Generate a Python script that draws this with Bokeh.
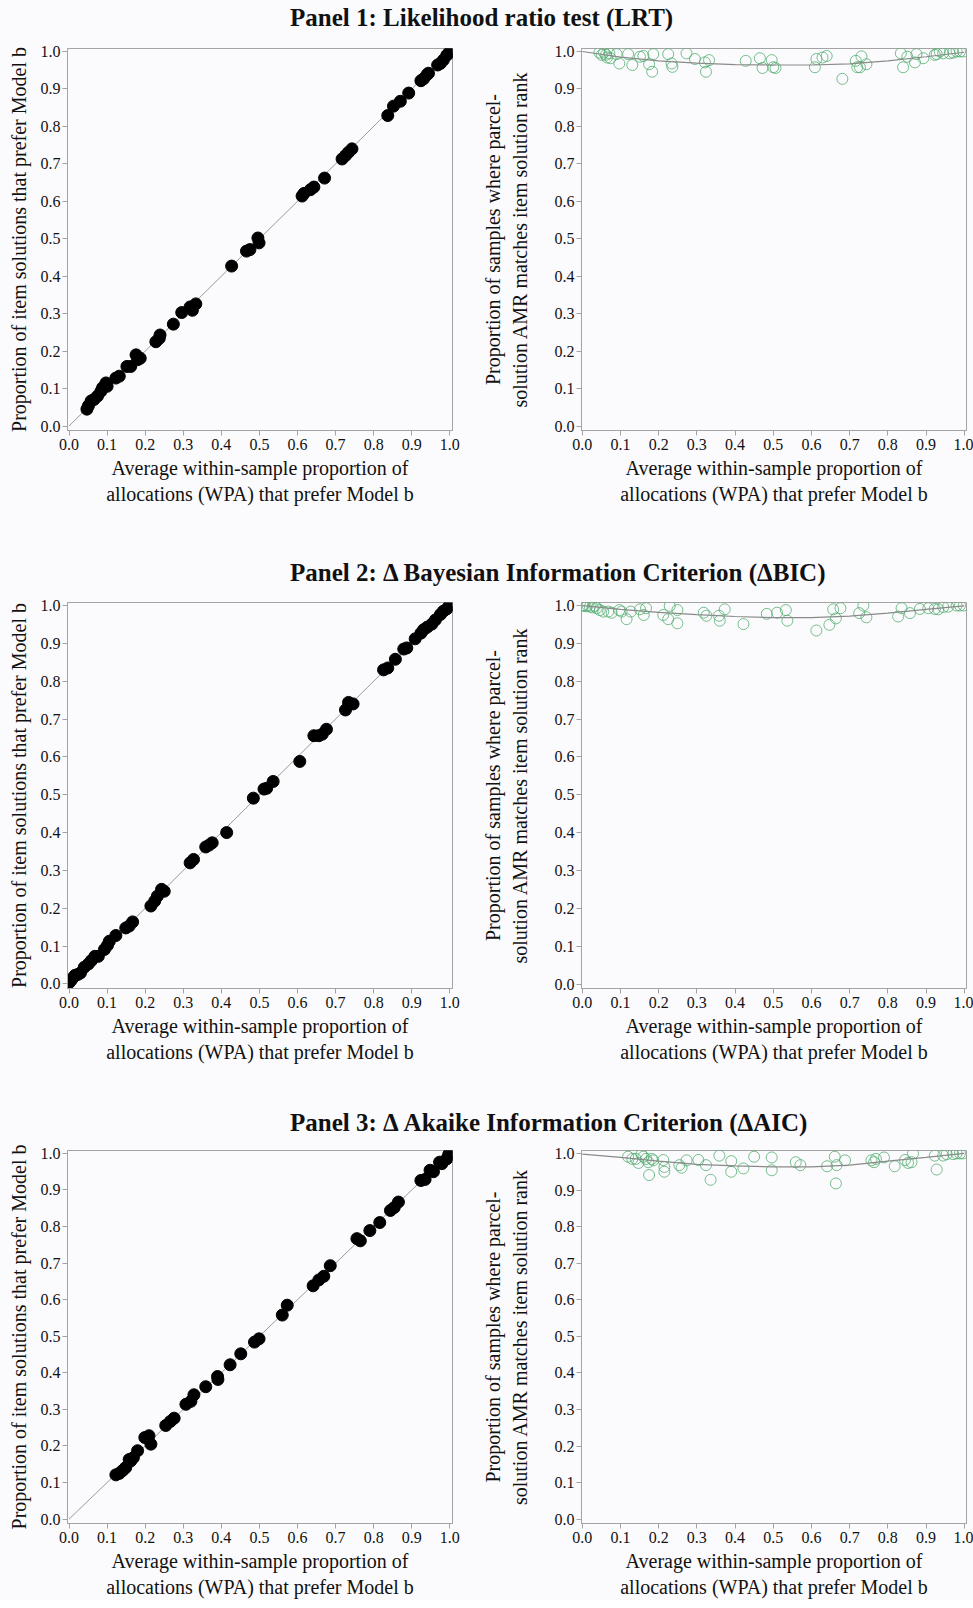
from bokeh.plotting import figure
from bokeh.models import Range1d, FixedTicker, Div, Spacer, NumeralTickFormatter
from bokeh.layouts import column, row
from bokeh.embed import file_html
from bokeh.resources import INLINE

# ---------------- data ----------------
titles = [
    "Panel 1: Likelihood ratio test (LRT)",
    "Panel 2: \u0394 Bayesian Information Criterion (\u0394BIC)",
    "Panel 3: \u0394 Akaike Information Criterion (\u0394AIC)",
]
tick_values = [0.0, 0.1, 0.2, 0.3, 0.4, 0.5, 0.6, 0.7, 0.8, 0.9, 1.0]
diag_x = [0.0, 1.0]
diag_y = [0.0, 1.0]

# Panel 1 – left (WPA vs proportion of item solutions)
p1_wpa = [0.047, 0.051, 0.058, 0.066, 0.075, 0.084, 0.088, 0.097, 0.100, 0.123, 0.132,
          0.152, 0.162, 0.176, 0.180, 0.187, 0.228, 0.237, 0.239, 0.274, 0.296, 0.318,
          0.324, 0.333, 0.427, 0.466, 0.475, 0.496, 0.499, 0.612, 0.617, 0.634, 0.643,
          0.671, 0.717, 0.726, 0.734, 0.743, 0.837, 0.852, 0.870, 0.892, 0.924, 0.931,
          0.940, 0.944, 0.968, 0.975, 0.983, 0.992, 0.997, 1.000]
p1_item = [0.045, 0.054, 0.067, 0.071, 0.080, 0.093, 0.102, 0.115, 0.106, 0.128, 0.133,
           0.159, 0.159, 0.190, 0.177, 0.181, 0.225, 0.234, 0.243, 0.272, 0.303, 0.318,
           0.309, 0.326, 0.427, 0.467, 0.471, 0.502, 0.489, 0.614, 0.621, 0.631, 0.638,
           0.662, 0.713, 0.722, 0.731, 0.740, 0.829, 0.854, 0.867, 0.889, 0.922, 0.927,
           0.938, 0.942, 0.964, 0.968, 0.977, 0.990, 0.995, 0.999]
# Panel 1 – right (WPA vs proportion matching)
p1r_wpa = [0.045, 0.051, 0.057, 0.062, 0.065, 0.071, 0.074, 0.090, 0.097, 0.120, 0.131,
           0.151, 0.160, 0.175, 0.183, 0.186, 0.225, 0.234, 0.236, 0.273, 0.295, 0.321,
           0.324, 0.332, 0.428, 0.465, 0.472, 0.496, 0.500, 0.506, 0.609, 0.613, 0.629,
           0.640, 0.681, 0.716, 0.720, 0.727, 0.731, 0.744, 0.834, 0.840, 0.851, 0.871,
           0.875, 0.893, 0.923, 0.928, 0.936, 0.945, 0.962, 0.971, 0.980, 0.989, 0.997]
p1r_match = [0.997, 0.991, 0.997, 0.991, 0.984, 0.995, 0.982, 0.993, 0.968, 0.993, 0.964,
             0.986, 0.988, 0.966, 0.946, 0.993, 0.993, 0.968, 0.959, 0.995, 0.980, 0.971,
             0.946, 0.977, 0.975, 0.982, 0.956, 0.977, 0.958, 0.956, 0.958, 0.980, 0.984,
             0.988, 0.927, 0.975, 0.958, 0.958, 0.987, 0.966, 0.995, 0.958, 0.986, 0.971,
             0.993, 0.982, 0.991, 0.993, 1.000, 0.995, 0.995, 0.997, 1.000, 1.000, 1.000]
p1_smooth_x = [0.0, 0.1, 0.2, 0.3, 0.4, 0.5, 0.6, 0.7, 0.8, 0.9, 1.0]
p1_smooth_y = [1.0, 0.985, 0.975, 0.969, 0.965, 0.964, 0.964, 0.967, 0.975, 0.986, 0.998]

# Panel 2 – left
p2_wpa = [0.000, 0.005, 0.010, 0.016, 0.023, 0.030, 0.040, 0.051, 0.059, 0.068, 0.077,
          0.093, 0.101, 0.106, 0.123, 0.149, 0.158, 0.167, 0.215, 0.225, 0.232, 0.243,
          0.250, 0.318, 0.327, 0.359, 0.368, 0.376, 0.414, 0.484, 0.512, 0.519, 0.536,
          0.606, 0.643, 0.656, 0.665, 0.676, 0.726, 0.734, 0.746, 0.826, 0.837, 0.857,
          0.879, 0.887, 0.909, 0.924, 0.931, 0.941, 0.953, 0.962, 0.975, 0.983, 0.992,
          0.999]
p2_item = [0.003, 0.009, 0.016, 0.023, 0.025, 0.029, 0.044, 0.053, 0.062, 0.073, 0.073,
           0.091, 0.102, 0.113, 0.128, 0.148, 0.153, 0.164, 0.206, 0.219, 0.232, 0.250,
           0.245, 0.320, 0.329, 0.362, 0.367, 0.373, 0.400, 0.491, 0.515, 0.517, 0.535,
           0.588, 0.656, 0.656, 0.660, 0.673, 0.724, 0.744, 0.740, 0.830, 0.835, 0.858,
           0.885, 0.888, 0.912, 0.927, 0.936, 0.943, 0.951, 0.962, 0.976, 0.985, 0.991,
           1.000]
# Panel 2 – right
p2r_wpa = [0.001, 0.003, 0.009, 0.014, 0.020, 0.027, 0.033, 0.038, 0.046, 0.055, 0.068,
           0.077, 0.097, 0.103, 0.116, 0.127, 0.151, 0.161, 0.167, 0.212, 0.225, 0.229,
           0.249, 0.249, 0.318, 0.325, 0.358, 0.360, 0.373, 0.422, 0.483, 0.510, 0.533,
           0.537, 0.613, 0.647, 0.657, 0.664, 0.676, 0.725, 0.736, 0.744, 0.827, 0.836,
           0.858, 0.884, 0.906, 0.923, 0.932, 0.945, 0.958, 0.980, 0.989, 0.999]
p2r_match = [1.000, 1.000, 0.998, 1.000, 0.997, 0.995, 0.999, 0.993, 0.988, 0.984, 0.984,
             0.981, 0.988, 0.984, 0.964, 0.984, 0.990, 0.975, 0.993, 0.975, 0.964, 0.999,
             0.988, 0.953, 0.981, 0.973, 0.973, 0.960, 0.990, 0.951, 0.978, 0.981, 0.988,
             0.960, 0.934, 0.949, 0.990, 0.966, 0.993, 0.980, 1.000, 0.969, 0.971, 0.993,
             0.980, 0.991, 0.993, 0.991, 0.990, 0.996, 0.997, 1.000, 1.000, 1.000]
p2_smooth_x = [0.0, 0.1, 0.2, 0.3, 0.4, 0.5, 0.6, 0.7, 0.8, 0.9, 1.0]
p2_smooth_y = [1.0, 0.990, 0.982, 0.976, 0.971, 0.968, 0.968, 0.972, 0.980, 0.990, 0.999]

# Panel 3 – left
p3_wpa = [0.123, 0.132, 0.141, 0.149, 0.158, 0.162, 0.169, 0.180, 0.199, 0.210, 0.215,
          0.254, 0.266, 0.276, 0.307, 0.320, 0.328, 0.359, 0.390, 0.391, 0.423, 0.451,
          0.487, 0.499, 0.560, 0.573, 0.641, 0.656, 0.669, 0.686, 0.756, 0.765, 0.790,
          0.816, 0.844, 0.854, 0.865, 0.924, 0.935, 0.948, 0.957, 0.973, 0.979, 0.992,
          0.997, 1.000]
p3_item = [0.121, 0.125, 0.133, 0.141, 0.163, 0.159, 0.168, 0.187, 0.223, 0.228, 0.205,
           0.256, 0.267, 0.276, 0.314, 0.322, 0.340, 0.362, 0.390, 0.382, 0.422, 0.452,
           0.484, 0.493, 0.558, 0.585, 0.638, 0.654, 0.664, 0.693, 0.767, 0.761, 0.789,
           0.811, 0.844, 0.852, 0.867, 0.926, 0.929, 0.954, 0.950, 0.976, 0.972, 0.985,
           0.997, 1.000]
# Panel 3 – right
p3r_wpa = [0.120, 0.131, 0.140, 0.147, 0.155, 0.160, 0.167, 0.173, 0.175, 0.182, 0.186,
           0.212, 0.215, 0.215, 0.254, 0.260, 0.273, 0.304, 0.324, 0.336, 0.359, 0.390,
           0.390, 0.422, 0.450, 0.496, 0.496, 0.559, 0.571, 0.641, 0.661, 0.666, 0.664,
           0.688, 0.757, 0.764, 0.769, 0.790, 0.818, 0.845, 0.853, 0.862, 0.866, 0.923,
           0.928, 0.945, 0.954, 0.971, 0.980, 0.989, 0.996]
p3r_match = [0.991, 0.985, 0.985, 0.974, 0.998, 0.991, 0.985, 0.976, 0.941, 0.985, 0.981,
             0.982, 0.963, 0.950, 0.968, 0.961, 0.981, 0.982, 0.968, 0.928, 0.994, 0.979,
             0.950, 0.959, 0.991, 0.989, 0.954, 0.976, 0.968, 0.965, 0.991, 0.968, 0.918,
             0.981, 0.981, 0.976, 0.985, 0.989, 0.965, 0.982, 0.974, 0.976, 1.000, 0.994,
             0.956, 0.994, 0.998, 0.998, 1.000, 1.000, 1.000]
p3_smooth_x = [0.0, 0.1, 0.2, 0.3, 0.4, 0.5, 0.6, 0.7, 0.8, 0.9, 1.0]
p3_smooth_y = [0.998, 0.989, 0.979, 0.970, 0.966, 0.963, 0.963, 0.968, 0.979, 0.989, 1.000]

x_title = "Average within-sample proportion of\nallocations (WPA) that prefer Model b"
left_y_title = "Proportion of item solutions that prefer Model b"
right_y_title = "Proportion of samples where parcel-\nsolution AMR matches item solution rank"

# ---------------- styling ----------------
BG = "#fbfbfd"
FRAME = "#a3a3a3"
SERIF = "Liberation Serif"


def style(p, ylab, ylab_standoff):
    p.xgrid.visible = False
    p.ygrid.visible = False
    p.outline_line_color = FRAME
    p.outline_line_width = 1
    p.background_fill_color = BG
    p.border_fill_color = BG
    for ax in (p.xaxis[0], p.yaxis[0]):
        ax.ticker = FixedTicker(ticks=tick_values)
        ax.formatter = NumeralTickFormatter(format="0.0")
        ax.axis_line_color = FRAME
        ax.major_tick_line_color = FRAME
        ax.major_tick_out = 5
        ax.major_tick_in = 0
        ax.minor_tick_line_color = None
        ax.major_label_text_font = SERIF
        ax.major_label_text_font_size = "16px"
        ax.major_label_text_color = "#111111"
        ax.axis_label_text_font = SERIF
        ax.axis_label_text_font_size = "20px"
        ax.axis_label_text_font_style = "normal"
        ax.axis_label_text_color = "#111111"
    p.xaxis[0].axis_label = x_title
    p.xaxis[0].major_label_standoff = 3
    p.xaxis[0].axis_label_standoff = 4
    p.yaxis[0].axis_label = ylab
    p.yaxis[0].major_label_standoff = 2
    p.yaxis[0].axis_label_standoff = ylab_standoff


def left_fig(h, top, bottom, wpa, item):
    p = figure(width=476, height=h, x_range=Range1d(-0.004, 1.007),
               y_range=Range1d(-0.012, 1.008), output_backend="svg",
               toolbar_location=None, min_border_left=67, min_border_right=24,
               min_border_top=top, min_border_bottom=bottom)
    style(p, left_y_title, 8)
    p.line(diag_x, diag_y, line_color="#9a9a9a", line_width=1)
    p.scatter(wpa, item, size=12, fill_color="black", line_color="black")
    return p


def right_fig(h, top, bottom, wpa, match, sx, sy):
    p = figure(width=497, height=h, x_range=Range1d(-0.002, 1.006),
               y_range=Range1d(-0.0115, 1.008), output_backend="svg",
               toolbar_location=None, min_border_left=105, min_border_right=7,
               min_border_top=top, min_border_bottom=bottom)
    style(p, right_y_title, 21)
    p.scatter(wpa, match, size=11, fill_color=None, line_color="#4aaa68",
              line_alpha=0.75, line_width=1)
    p.line(sx, sy, line_color="#8a8a8a", line_width=1.2)
    return p


def title_row(text):
    d = Div(text=('<div style="font-family:\'Liberation Serif\';font-weight:bold;'
                  'font-size:25px;line-height:36px;white-space:nowrap;color:#111">'
                  + text + '</div>'), width=683, height=36, margin=0)
    return row(Spacer(width=290, height=36, margin=0), d, margin=0)


blocks = []
# Panel 1
blocks.append(title_row(titles[0]))
blocks.append(row(left_fig(519, 8, 125, p1_wpa, p1_item),
                  right_fig(519, 12, 125, p1r_wpa, p1r_match, p1_smooth_x, p1_smooth_y),
                  margin=0))
# Panel 2
blocks.append(title_row(titles[1]))
blocks.append(row(left_fig(514, 11, 117, p2_wpa, p2_item),
                  right_fig(514, 11, 117, p2r_wpa, p2r_match, p2_smooth_x, p2_smooth_y),
                  margin=0))
# Panel 3
blocks.append(title_row(titles[2]))
blocks.append(row(left_fig(459, 9, 66, p3_wpa, p3_item),
                  right_fig(459, 9, 66, p3r_wpa, p3r_match, p3_smooth_x, p3_smooth_y),
                  margin=0))

page = column(*blocks, margin=0, styles={"background-color": BG})

open("out.html", "w", encoding="utf-8").write(file_html(page, INLINE))
